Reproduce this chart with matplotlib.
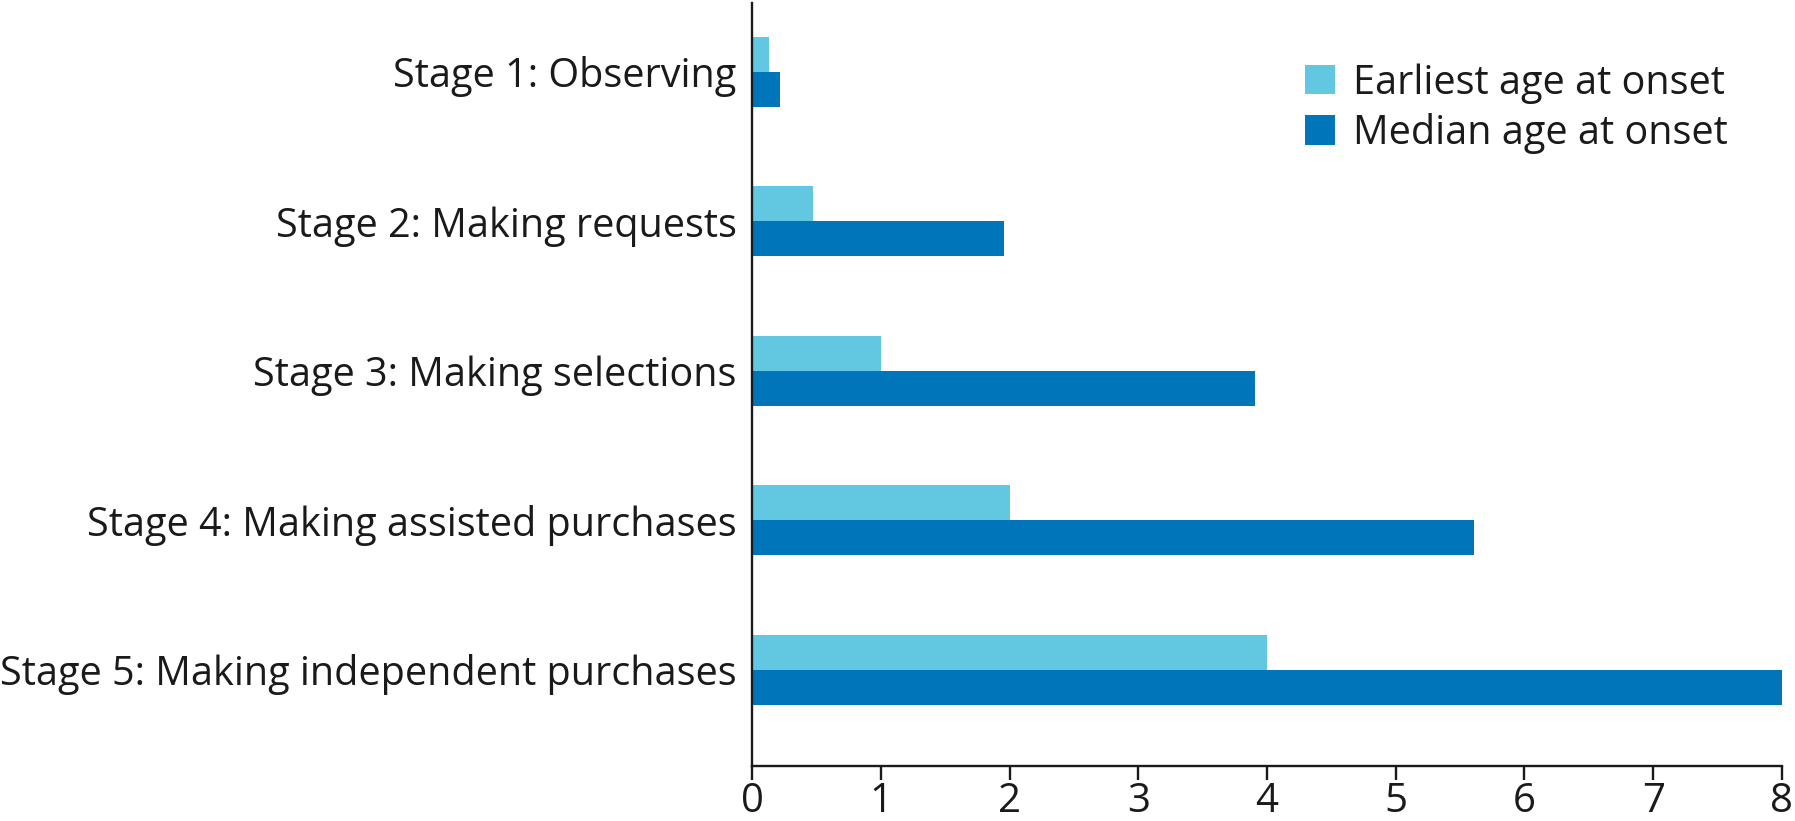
import matplotlib
matplotlib.use("Agg")
import matplotlib.pyplot as plt
import numpy as np

categories = ["Stage 1: Observing", "Stage 2: Making requests", "Stage 3: Making selections",
              "Stage 4: Making assisted purchases", "Stage 5: Making independent purchases"]
earliest = [0.13, 0.47, 1.0, 2.0, 4.0]
median = [0.22, 1.96, 3.91, 5.61, 8.0]
series_names = ["Earliest age at onset", "Median age at onset"]
xticks = [0, 1, 2, 3, 4, 5, 6, 7, 8]

light = "#62C8E2"
dark = "#0075BA"

plt.rcParams['font.family'] = ['Open Sans', 'DejaVu Sans']

fig = plt.figure(figsize=(17.95, 8.21), dpi=100)
ax = fig.add_axes([752/1795, 1 - 766/821, (1782-752)/1795, (766-3)/821])

y = np.arange(len(categories))
h = 0.234
ax.barh(y - h/2, earliest, height=h, color=light, label=series_names[0])
ax.barh(y + h/2, median, height=h, color=dark, label=series_names[1])

ax.set_xlim(0, 8)
ax.set_ylim(4.642, -0.46)
ax.set_xticks(xticks)
ax.set_xticklabels([str(t) for t in xticks])
ax.set_yticks(y)
ax.set_yticklabels(categories)

for s in ["top", "right"]:
    ax.spines[s].set_visible(False)
for s in ["left", "bottom"]:
    ax.spines[s].set_linewidth(1.7)
    ax.spines[s].set_color("#1a1a1a")

ax.tick_params(axis='y', length=0, pad=11, labelsize=28.5, labelcolor="#1a1a1a")
ax.tick_params(axis='x', length=10, width=1.7, direction='out', pad=1, labelsize=29,
               labelcolor="#1a1a1a", color="#1a1a1a")

leg = ax.legend(loc='upper left', bbox_to_anchor=(1305/1795, 1 - 63/821),
                bbox_transform=fig.transFigure, frameon=False, fontsize=28.5,
                handlelength=0.77, handleheight=0.77, handletextpad=0.45,
                labelspacing=0.23, borderpad=0, borderaxespad=0)
for t in leg.get_texts():
    t.set_color("#1a1a1a")

fig.savefig("out.png", dpi=100)
